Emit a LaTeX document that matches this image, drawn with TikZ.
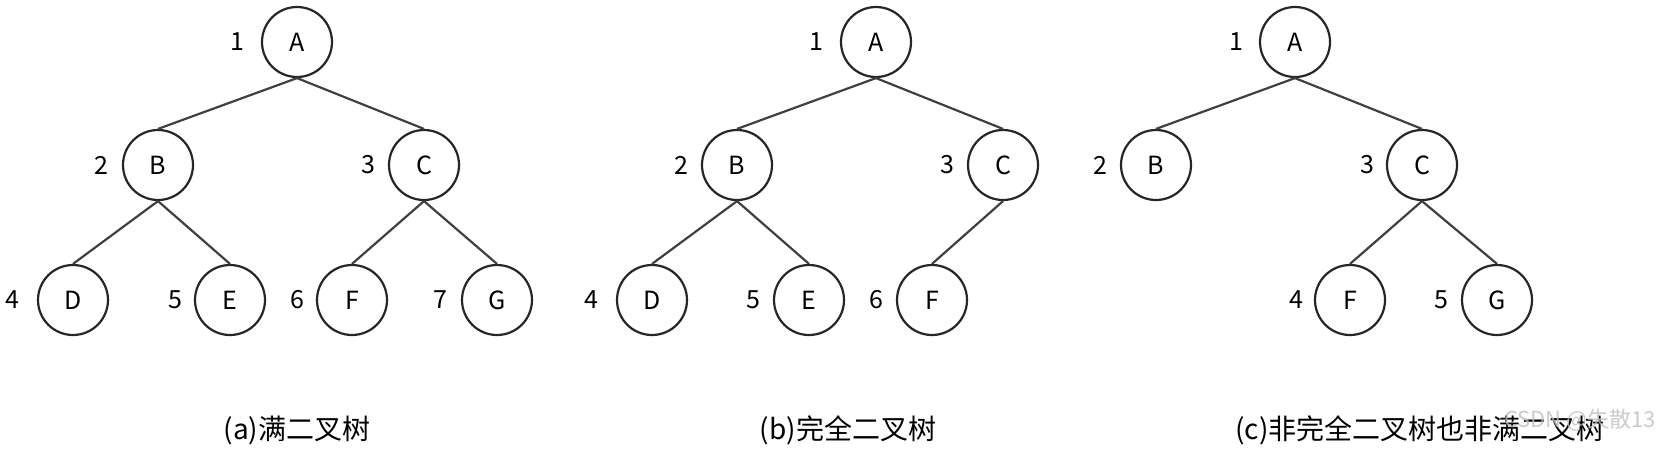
\documentclass[tikz,border=0pt]{standalone}
\usepackage{fontspec}
\setmainfont{Noto Sans CJK SC}
\begin{document}
\begin{tikzpicture}[x=1pt,y=-1pt,
  nd/.style={draw=black!85,line width=2.2pt,circle,minimum size=70pt,inner sep=0pt,font=\fontsize{25}{28}\selectfont},
  lb/.style={font=\fontsize{25}{28}\selectfont},
  captext/.style={font=\fontsize{28}{32}\selectfont},
  ed/.style={line width=2.2pt,draw=black!75}]
\useasboundingbox[fill=white] (0,0) rectangle (1662,474);
% tree a
\node[nd] (aA) at (297,42) {A};
\node[nd] (aB) at (158,165) {B};
\node[nd] (aC) at (424,165) {C};
\node[nd] (aD) at (73,300) {D};
\node[nd] (aE) at (230,300) {E};
\node[nd] (aF) at (352,300) {F};
\node[nd] (aG) at (497,300) {G};
\node[lb] (la1) at (237,42) {1};
\node[lb] (la2) at (101,165) {2};
\node[lb] (la3) at (368,165) {3};
\node[lb] (la4) at (12,300) {4};
\node[lb] (la5) at (175,300) {5};
\node[lb] (la6) at (297,300) {6};
\node[lb] (la7) at (440,300) {7};
\draw[ed] (aA.south) -- (aB.north);
\draw[ed] (aA.south) -- (aC.north);
\draw[ed] (aB.south) -- (aD.north);
\draw[ed] (aB.south) -- (aE.north);
\draw[ed] (aC.south) -- (aF.north);
\draw[ed] (aC.south) -- (aG.north);
\node[captext] (capa) at (297,430) {(a)满二叉树};
% tree b
\node[nd] (bA) at (876,42) {A};
\node[nd] (bB) at (737,165) {B};
\node[nd] (bC) at (1003,165) {C};
\node[nd] (bD) at (652,300) {D};
\node[nd] (bE) at (809,300) {E};
\node[nd] (bF) at (932,300) {F};
\node[lb] (lb1) at (816,42) {1};
\node[lb] (lb2) at (681,165) {2};
\node[lb] (lb3) at (947,165) {3};
\node[lb] (lb4) at (591,300) {4};
\node[lb] (lb5) at (753,300) {5};
\node[lb] (lb6) at (876,300) {6};
\draw[ed] (bA.south) -- (bB.north);
\draw[ed] (bA.south) -- (bC.north);
\draw[ed] (bB.south) -- (bD.north);
\draw[ed] (bB.south) -- (bE.north);
\draw[ed] (bC.south) -- (bF.north);
\node[captext] (capb) at (848,430) {(b)完全二叉树};
% tree c
\node[nd] (cA) at (1295,42) {A};
\node[nd] (cB) at (1156,165) {B};
\node[nd] (cC) at (1422,165) {C};
\node[nd] (cF) at (1350,300) {F};
\node[nd] (cG) at (1497,300) {G};
\node[lb] (lc1) at (1236,42) {1};
\node[lb] (lc2) at (1100,165) {2};
\node[lb] (lc3) at (1367,165) {3};
\node[lb] (lc4) at (1296,300) {4};
\node[lb] (lc5) at (1441,300) {5};
\draw[ed] (cA.south) -- (cB.north);
\draw[ed] (cA.south) -- (cC.north);
\draw[ed] (cC.south) -- (cF.north);
\draw[ed] (cC.south) -- (cG.north);
\node[captext] (capc) at (1420,430) {(c)非完全二叉树也非满二叉树};
\node[font=\fontsize{22}{26}\selectfont,text=black!25,opacity=0.8] (wm) at (1580,420) {CSDN @失散13};
\end{tikzpicture}
\end{document}
